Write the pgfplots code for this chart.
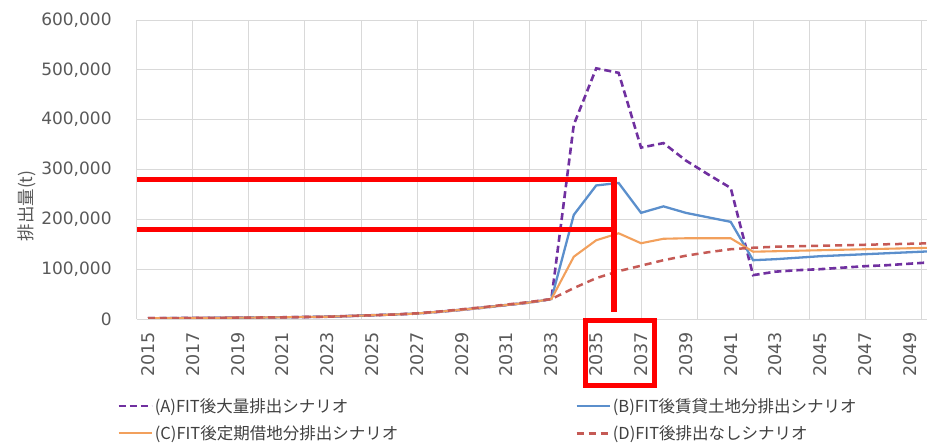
\documentclass[border=0pt]{standalone}
\usepackage{fontspec}
\usepackage{pgfplots}
\usepackage{pgfplotstable}
\pgfplotsset{compat=1.18}
\setmainfont{DejaVu Sans}
\newfontfamily\jp{Noto Sans CJK JP}
\definecolor{cA}{HTML}{7030A0}
\definecolor{cB}{HTML}{5B8FCC}
\definecolor{cC}{HTML}{F2A05C}
\definecolor{cD}{HTML}{C55A55}
\definecolor{gridc}{HTML}{D9D9D9}
\definecolor{tickc}{HTML}{595959}
\definecolor{legc}{HTML}{404040}

\pgfplotstableread{
year A B C D
2015 1500 1500 1500 1500
2016 1800 1800 1800 1800
2017 2000 2000 2000 2000
2018 2300 2300 2300 2300
2019 2600 2600 2600 2600
2020 3000 3000 3000 3000
2021 3400 3400 3400 3400
2022 4000 4000 4000 4000
2023 4600 4600 4600 4600
2024 6000 6000 6000 6000
2025 7500 7500 7500 7500
2026 9000 9000 9000 9000
2027 11000 11000 11000 11500
2028 14500 14500 14500 15000
2029 18500 18500 18500 19500
2030 23000 23000 23000 24000
2031 28000 28000 28000 29000
2032 33000 33000 33000 34000
2033 40000 40000 40000 40000
2034 390000 209000 125000 62000
2035 503000 268000 158000 82000
2036 494000 273000 172000 96000
2037 344000 213000 152000 107000
2038 353000 226000 161000 118000
2039 318000 213000 162000 127000
2040 290000 204000 162000 134000
2041 263000 195000 162000 140000
2042 88000 118000 135000 143000
2043 95000 120000 136000 145000
2044 98000 123000 137000 146000
2045 100000 126000 138000 147000
2046 103000 128000 139000 148000
2047 106000 130000 140000 149000
2048 108000 132000 141000 150000
2049 111000 134000 142000 151000
2050 114000 136000 143000 152000
}\datatable

\begin{document}
\begin{tikzpicture}
\useasboundingbox (-136.8pt,-124pt) rectangle (790.2pt,319pt);
\begin{axis}[
  at={(0pt,0pt)}, anchor=south west,
  scale only axis, width=790.2pt, height=299pt,
  xmin=2014.5, xmax=2049.76,
  ymin=0, ymax=600000,
  axis x line*=bottom, axis y line*=left,
  axis line style={draw=gridc, line width=0.8pt, -},
  xtick={2015,2017,...,2049},
  ytick={0,100000,...,600000},
  scaled y ticks=false,
  major tick length=0pt,
  ymajorgrids, xmajorgrids=false,
  grid style={draw=gridc, line width=0.8pt},
  extra x ticks={2017,2019.5,2022,2024.5,2027,2029.5,2032,2034.5,2037,2039.5,2042,2044.5,2047,2049.5},
  extra x tick labels={},
  extra x tick style={grid=major, major tick length=0pt},
  /pgf/number format/assume math mode=true,
  yticklabel style={font=\fontsize{17}{20}\selectfont, text=tickc, anchor=east, inner sep=0pt, xshift=-25pt,
    /pgf/number format/fixed, /pgf/number format/1000 sep={,}},
  xticklabel style={font=\fontsize{17.5}{20}\selectfont, text=tickc, yshift=-13pt, rotate=90, anchor=east, inner sep=0pt,
    /pgf/number format/1000 sep={}},
  legend columns=2,
  legend cell align=left,
  legend style={at={(-0.025,-0.2575)}, anchor=north west, draw=none, fill=none,
    inner sep=0pt, font=\jp\fontsize{16.5}{18}\selectfont, text=legc, row sep=8pt,
    /tikz/every even column/.append style={column sep=175pt}},
  legend image code/.code={\draw[#1] (0pt,0pt) -- (33pt,0pt);},
  clip=true,
]
\addplot[cA, line width=2.6pt, dash pattern=on 7pt off 4pt] table[x=year,y=A] {\datatable};
\addlegendentry{(A)FIT後大量排出シナリオ}
\addplot[cB, line width=2.3pt] table[x=year,y=B] {\datatable};
\addlegendentry{(B)FIT後賃貸土地分排出シナリオ}
\addplot[cC, line width=2.1pt] table[x=year,y=C] {\datatable};
\addlegendentry{(C)FIT後定期借地分排出シナリオ}
\addplot[cD, line width=2.5pt, dash pattern=on 7pt off 5pt] table[x=year,y=D] {\datatable};
\addlegendentry{(D)FIT後排出なしシナリオ}
\addplot[red, line width=5.5pt, forget plot] coordinates {(2014.5,280000) (2035.8,280000) (2035.8,14000)};
\addplot[red, line width=5.5pt, forget plot] coordinates {(2014.5,180000) (2035.8,180000)};
\coordinate (rA) at (axis cs:2034.5,-4000);
\coordinate (rB) at (axis cs:2037.58,-134400);
\end{axis}
\draw[red, line width=5pt] (rA) rectangle (rB);
\node[rotate=90, font=\jp\fontsize{17.5}{20}\selectfont, text=tickc] at (-109.8pt,113pt) {排出量(t)};
\end{tikzpicture}
\end{document}
